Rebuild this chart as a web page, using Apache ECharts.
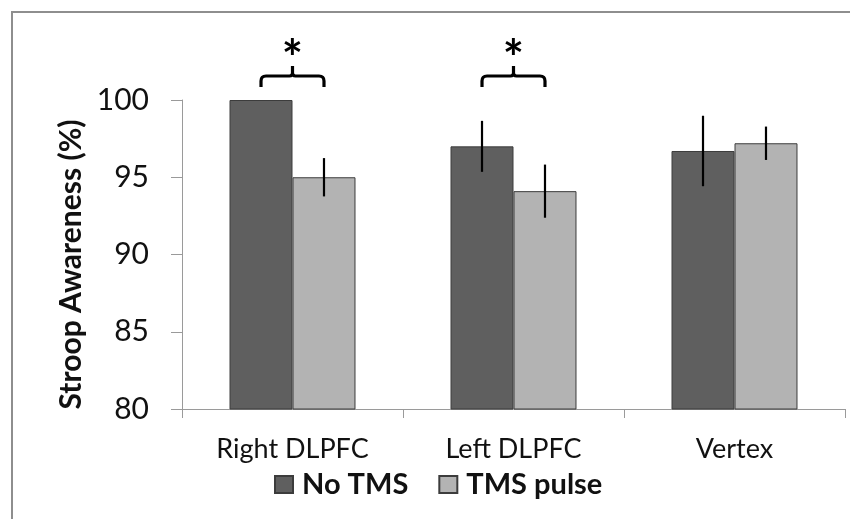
<!DOCTYPE html>
<html>
<head>
<meta charset="utf-8">
<script src="https://cdn.jsdelivr.net/npm/echarts@6/dist/echarts.min.js"></script>
<style>
  html, body { margin: 0; padding: 0; background: #ffffff; }
  #chart { width: 850px; height: 519px; }
</style>
</head>
<body>
<div id="chart"></div>
<script>
// Stroop awareness by stimulation site, with and without a TMS pulse
const categories = ['Right DLPFC', 'Left DLPFC', 'Vertex'];
const seriesNames = ['No TMS', 'TMS pulse'];
const noTms = [100, 97.0, 96.7];
const tmsPulse = [95.0, 94.1, 97.2];
// half-length of each error bar (same units as the values)
const noTmsErr = [0, 1.65, 2.28];
const tmsPulseErr = [1.24, 1.72, 1.08];
// sites where the two conditions differ significantly
const significantSites = [0, 1];
const yMin = 80, yMax = 100, yStep = 5;

const DARK = '#5f5f5f';
const LIGHT = '#b3b3b3';
const EDGE = '#3c3c3c';
const CAT_GAP = 0.43;                 // barCategoryGap as a fraction
const BAR_FRAC = (1 - CAT_GAP) / 2;   // each bar's share of the band

const chart = echarts.init(document.getElementById('chart'), null, { renderer: 'canvas' });

function errorData(values, errs) {
  return values.map((v, i) => [i, v - errs[i], v + errs[i]]).filter((d, i) => errs[i] > 0);
}

function errorSeries(values, errs, side) {
  return {
    type: 'custom',
    name: seriesNames[side < 0 ? 0 : 1] + ' error',
    data: errorData(values, errs),
    encode: { x: 0, y: [1, 2] },
    z: 5,
    silent: true,
    renderItem: function (params, api) {
      const c = api.value(0);
      const band = api.size([1, 0])[0];
      const lo = api.coord([c, api.value(1)]);
      const hi = api.coord([c, api.value(2)]);
      const x = lo[0] + side * band * BAR_FRAC / 2;
      return {
        type: 'line',
        shape: { x1: x, y1: lo[1], x2: x, y2: hi[1] },
        style: { stroke: '#000000', lineWidth: 2.2 }
      };
    }
  };
}

const option = {
  animation: false,
  backgroundColor: '#ffffff',
  textStyle: { fontFamily: 'Lato' },
  graphic: [{
    type: 'rect',
    shape: { x: 12, y: 12, width: 900, height: 600 },
    style: { fill: 'none', stroke: '#8e8e8e', lineWidth: 2 },
    z: -1
  }],
  grid: { left: 182, right: 5, top: 100, bottom: 110, containLabel: false },
  legend: {
    data: seriesNames,
    left: 274,
    top: 470,
    padding: 0,
    itemWidth: 18,
    itemHeight: 17,
    itemGap: 30,
    icon: 'rect',
    textStyle: { fontFamily: 'Lato', fontWeight: 'bold', fontSize: 29, color: '#111111', padding: [0, 0, 0, 4] }
  },
  xAxis: {
    type: 'category',
    data: categories,
    axisLine: { lineStyle: { color: '#9a9a9a', width: 1 } },
    axisTick: { show: true, length: 9, alignWithLabel: false, lineStyle: { color: '#9a9a9a' } },
    axisLabel: { fontFamily: 'Lato', fontSize: 27, color: '#111111', margin: 27 }
  },
  yAxis: {
    type: 'value',
    min: yMin, max: yMax, interval: yStep,
    name: 'Stroop Awareness (%)',
    nameLocation: 'middle',
    nameGap: 87,
    nameTextStyle: { fontFamily: 'Lato', fontWeight: 'bold', fontSize: 30, color: '#111111', padding: [0, 20, 0, 0] },
    axisLine: { show: true, lineStyle: { color: '#9a9a9a', width: 1 } },
    axisTick: { show: true, length: 11, lineStyle: { color: '#9a9a9a' } },
    axisLabel: { fontFamily: 'Lato', fontSize: 30, color: '#111111', margin: 33 },
    splitLine: { show: false }
  },
  series: [
    {
      type: 'bar', name: seriesNames[0], data: noTms,
      barGap: '0%', barCategoryGap: (CAT_GAP * 100) + '%',
      itemStyle: { color: DARK, borderColor: EDGE, borderWidth: 1 }
    },
    {
      type: 'bar', name: seriesNames[1], data: tmsPulse,
      barGap: '0%', barCategoryGap: (CAT_GAP * 100) + '%',
      itemStyle: { color: LIGHT, borderColor: EDGE, borderWidth: 1 }
    },
    errorSeries(noTms, noTmsErr, -1),
    errorSeries(tmsPulse, tmsPulseErr, 1),
    {
      // significance brackets with asterisks above the bar pairs
      type: 'custom',
      name: 'significance',
      data: significantSites.map(i => [i, yMax]),
      encode: { x: 0, y: 1 },
      silent: true,
      clip: false,
      renderItem: function (params, api) {
        const c = api.value(0);
        const band = api.size([1, 0])[0];
        const top = api.coord([c, api.value(1)]);
        const xm = top[0];
        const x1 = xm - band * BAR_FRAC / 2;
        const x2 = xm + band * BAR_FRAC / 2;
        const yEnd = top[1] - 13;
        const yBar = top[1] - 24;
        const yStem = top[1] - 34;
        const r = 5;
        const d = [
          'M', x1, yEnd,
          'L', x1, yBar + r,
          'Q', x1, yBar, x1 + r, yBar,
          'L', xm - 3, yBar,
          'Q', xm, yBar, xm, yBar - 3,
          'L', xm, yStem,
          'M', xm, yBar - 3,
          'Q', xm, yBar, xm + 3, yBar,
          'L', x2 - r, yBar,
          'Q', x2, yBar, x2, yBar + r,
          'L', x2, yEnd
        ].join(' ');
        return {
          type: 'group',
          children: [
            {
              type: 'path',
              shape: { pathData: d },
              style: { fill: 'none', stroke: '#000000', lineWidth: 3.2, lineCap: 'butt', lineJoin: 'round' }
            },
            {
              type: 'text',
              style: {
                text: '*', x: xm, y: top[1] - 40,
                align: 'center', verticalAlign: 'middle',
                font: 'bold 50px Lato', fill: '#000000'
              }
            }
          ]
        };
      }
    }
  ]
};

chart.setOption(option);
</script>
</body>
</html>
